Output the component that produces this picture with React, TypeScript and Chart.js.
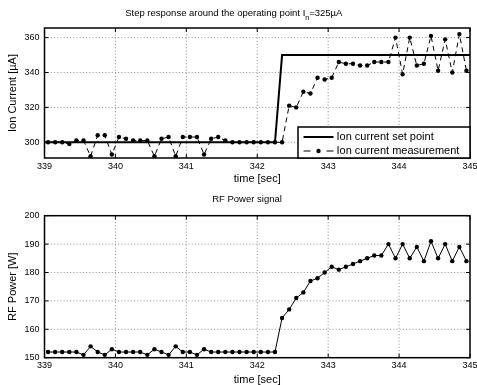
import React, { useEffect, useRef } from 'react';
import { Chart, registerables } from 'chart.js';

Chart.register(...registerables);

const FONT = '"Liberation Sans", Arial, Helvetica, sans-serif';

// ---- data ----
const sampleTimes = [
  339.05, 339.15, 339.25, 339.35, 339.45, 339.55, 339.65, 339.75, 339.85, 339.95,
  340.05, 340.15, 340.25, 340.35, 340.45, 340.55, 340.65, 340.75, 340.85, 340.95,
  341.05, 341.15, 341.25, 341.35, 341.45, 341.55, 341.65, 341.75, 341.85, 341.95,
  342.05, 342.15, 342.25, 342.35, 342.45, 342.55, 342.65, 342.75, 342.85, 342.95,
  343.05, 343.15, 343.25, 343.35, 343.45, 343.55, 343.65, 343.75, 343.85, 343.95,
  344.05, 344.15, 344.25, 344.35, 344.45, 344.55, 344.65, 344.75, 344.85, 344.95,
];

const ionSetTimes = [339, 342.25, 342.35, 345];
const ionSetValues = [300, 300, 350, 350];

const ionMeasured = [
  300, 300, 300, 299, 301, 301, 292, 304, 304, 293,
  303, 302, 301, 301, 301, 292, 302, 303, 292, 303,
  303, 303, 293, 302, 303, 301, 300, 300, 300, 300,
  300, 300, 300, 300, 321, 320, 329, 328, 337, 336,
  337, 346, 345, 345, 344, 344, 346, 346, 346, 360,
  339, 360, 344, 345, 361, 341, 359, 340, 362, 341,
];

const rfPower = [
  152, 152, 152, 152, 152, 151, 154, 152, 151, 153,
  152, 152, 152, 152, 151, 153, 152, 151, 154, 152,
  152, 151, 153, 152, 152, 152, 152, 152, 152, 152,
  152, 152, 152, 164, 167, 171, 173, 177, 178, 180,
  182, 181, 182, 183, 184, 185, 186, 186, 190, 185,
  190, 185, 189, 184, 191, 185, 190, 184, 189, 184,
];

const timeTicks = [339, 340, 341, 342, 343, 344, 345];
const ionTicks = [300, 320, 340, 360];
const rfTicks = [150, 160, 170, 180, 190, 200];
const legendLabels = ['Ion current set point', 'Ion current measurement'];

// ---- plugin: MATLAB style axes, titles, legend ----
type TitlePart = { text: string; sub?: boolean };

const matlabPlugin = {
  id: 'matlab',
  beforeDatasetsDraw(chart: any) {
    const { ctx, chartArea: a, scales } = chart;
    ctx.save();
    ctx.strokeStyle = '#8c8c8c';
    ctx.lineWidth = 1;
    ctx.setLineDash([1, 2.2]);
    for (const t of scales.x.ticks) {
      const px = scales.x.getPixelForValue(t.value);
      if (px <= a.left + 1 || px >= a.right - 1) continue;
      ctx.beginPath();
      ctx.moveTo(px, a.top);
      ctx.lineTo(px, a.bottom);
      ctx.stroke();
    }
    for (const t of scales.y.ticks) {
      const py = scales.y.getPixelForValue(t.value);
      if (py <= a.top + 1 || py >= a.bottom - 1) continue;
      ctx.beginPath();
      ctx.moveTo(a.left, py);
      ctx.lineTo(a.right, py);
      ctx.stroke();
    }
    ctx.restore();
  },
  afterDraw(chart: any, _args: any, opts: any) {
    const { ctx, chartArea: a, scales } = chart;
    ctx.save();
    // tick marks inward
    ctx.strokeStyle = '#000';
    ctx.lineWidth = 1;
    ctx.setLineDash([]);
    const tl = 4;
    for (const t of scales.x.ticks) {
      const px = scales.x.getPixelForValue(t.value);
      ctx.beginPath();
      ctx.moveTo(px, a.bottom);
      ctx.lineTo(px, a.bottom - tl);
      ctx.moveTo(px, a.top);
      ctx.lineTo(px, a.top + tl);
      ctx.stroke();
    }
    for (const t of scales.y.ticks) {
      const py = scales.y.getPixelForValue(t.value);
      ctx.beginPath();
      ctx.moveTo(a.left, py);
      ctx.lineTo(a.left + tl, py);
      ctx.moveTo(a.right, py);
      ctx.lineTo(a.right - tl, py);
      ctx.stroke();
    }
    // frame
    ctx.lineWidth = 1.5;
    ctx.strokeRect(a.left, a.top, a.right - a.left, a.bottom - a.top);

    // title with optional subscript
    const parts: TitlePart[] = opts.title || [];
    if (parts.length) {
      const size = opts.titleSize || 9.5;
      const subSize = size * 0.75;
      let total = 0;
      const widths = parts.map((p) => {
        ctx.font = `${p.sub ? subSize : size}px ${FONT}`;
        const w = ctx.measureText(p.text).width;
        total += w;
        return w;
      });
      let x = opts.titleX - total / 2;
      ctx.fillStyle = '#000';
      ctx.textBaseline = 'middle';
      ctx.textAlign = 'left';
      parts.forEach((p, i) => {
        ctx.font = `${p.sub ? subSize : size}px ${FONT}`;
        ctx.fillText(p.text, x, opts.titleY + (p.sub ? size * 0.5 : 0));
        x += widths[i];
      });
    }

    // legend inside lower right corner
    if (opts.legend) {
      const ds = chart.data.datasets;
      const w = 172;
      const h = 31;
      const left = a.right - w;
      const top = a.bottom - h;
      ctx.fillStyle = '#fff';
      ctx.fillRect(left, top, w, h);
      ctx.strokeStyle = '#000';
      ctx.lineWidth = 1.5;
      ctx.strokeRect(left, top, w, h);
      const rows = [top + 10, top + 24];
      const sx0 = left + 5.5;
      const sx1 = left + 35.5;
      // row 1: solid thick
      ctx.lineWidth = 2;
      ctx.beginPath();
      ctx.moveTo(sx0, rows[0]);
      ctx.lineTo(sx1, rows[0]);
      ctx.stroke();
      // row 2: dash - dot - dash
      ctx.lineWidth = 1;
      ctx.beginPath();
      ctx.moveTo(sx0, rows[1]);
      ctx.lineTo(sx0 + 7, rows[1]);
      ctx.moveTo(sx1 - 7, rows[1]);
      ctx.lineTo(sx1, rows[1]);
      ctx.stroke();
      ctx.fillStyle = '#000';
      ctx.beginPath();
      ctx.arc((sx0 + sx1) / 2, rows[1], 2.2, 0, Math.PI * 2);
      ctx.fill();
      ctx.font = `11px ${FONT}`;
      ctx.textAlign = 'left';
      ctx.textBaseline = 'middle';
      ctx.fillText(ds[0].label, left + 38.5, rows[0]);
      ctx.fillText(ds[1].label, left + 38.5, rows[1]);
    }
    ctx.restore();
  },
};

function xScale(height: number, padding: number, titlePadBottom: number) {
  return {
    type: 'linear',
    min: 339,
    max: 345,
    afterBuildTicks: (s: any) => {
      s.ticks = timeTicks.map((v) => ({ value: v }));
    },
    afterFit: (s: any) => {
      s.height = height;
      s.paddingLeft = 0;
      s.paddingRight = 0;
    },
    grid: { display: false, drawTicks: false },
    border: { display: false },
    ticks: {
      padding,
      color: '#000',
      autoSkip: false,
      maxRotation: 0,
      font: { size: 9, family: FONT },
      callback: (v: any) => String(v),
    },
    title: {
      display: true,
      text: 'time [sec]',
      color: '#000',
      font: { size: 11, family: FONT, lineHeight: 1 },
      padding: { top: 0, bottom: titlePadBottom },
    },
  };
}

function yScale(min: number, max: number, ticks: number[], label: string) {
  return {
    type: 'linear',
    min,
    max,
    afterBuildTicks: (s: any) => {
      s.ticks = ticks.map((v) => ({ value: v }));
    },
    afterFit: (s: any) => {
      s.width = 44.5;
      s.paddingTop = 0;
      s.paddingBottom = 0;
    },
    grid: { display: false, drawTicks: false },
    border: { display: false },
    ticks: {
      padding: 5,
      color: '#000',
      autoSkip: false,
      font: { size: 9, family: FONT },
      callback: (v: any) => String(v),
    },
    title: {
      display: true,
      text: label,
      color: '#000',
      font: { size: 11, family: FONT, lineHeight: 1 },
      padding: { top: 7, bottom: 0 },
    },
  };
}

function TopChart() {
  const ref = useRef<HTMLCanvasElement>(null);
  useEffect(() => {
    const chart = new Chart(ref.current as HTMLCanvasElement, {
      type: 'line',
      data: {
        datasets: [
          {
            label: legendLabels[0],
            data: ionSetTimes.map((t, i) => ({ x: t, y: ionSetValues[i] })),
            borderColor: '#000',
            borderWidth: 2,
            pointRadius: 0,
            tension: 0,
          },
          {
            label: legendLabels[1],
            data: sampleTimes.map((t, i) => ({ x: t, y: ionMeasured[i] })),
            borderColor: '#000',
            borderWidth: 1,
            borderDash: [5, 4],
            pointRadius: 2.2,
            pointBorderWidth: 0,
            pointBackgroundColor: '#000',
            tension: 0,
          },
        ],
      },
      options: {
        animation: false,
        responsive: false,
        devicePixelRatio: 1,
        layout: { padding: { top: 28, right: 7, left: 0, bottom: 0 } },
        plugins: {
          legend: { display: false },
          tooltip: { enabled: false },
          matlab: {
            title: [
              { text: 'Step response around the operating point I' },
              { text: 'n', sub: true },
              { text: '=325µA' },
            ],
            titleX: 233.8,
            titleY: 13.3,
            titleSize: 9.5,
            legend: true,
          },
        } as any,
        scales: {
          x: xScale(34, 3.5, 7.5) as any,
          y: yScale(291, 365.5, ionTicks, 'Ion Current [µA]') as any,
        },
      },
      plugins: [matlabPlugin],
    });
    return () => chart.destroy();
  }, []);
  return <canvas ref={ref} width={477} height={192} style={{ display: 'block', width: 477, height: 192 }} />;
}

function BottomChart() {
  const ref = useRef<HTMLCanvasElement>(null);
  useEffect(() => {
    const chart = new Chart(ref.current as HTMLCanvasElement, {
      type: 'line',
      data: {
        datasets: [
          {
            label: 'RF Power',
            data: sampleTimes.map((t, i) => ({ x: t, y: rfPower[i] })),
            borderColor: '#000',
            borderWidth: 1,
            pointRadius: 2.2,
            pointBorderWidth: 0,
            pointBackgroundColor: '#000',
            tension: 0,
          },
        ],
      },
      options: {
        animation: false,
        responsive: false,
        devicePixelRatio: 1,
        layout: { padding: { top: 23.7, right: 7, left: 0, bottom: 0 } },
        plugins: {
          legend: { display: false },
          tooltip: { enabled: false },
          matlab: {
            title: [{ text: 'RF Power signal' }],
            titleX: 247,
            titleY: 7,
            titleSize: 9.5,
            legend: false,
          },
        } as any,
        scales: {
          x: xScale(27.3, 2.2, 0) as any,
          y: yScale(150, 200, rfTicks, 'RF Power [W]') as any,
        },
      },
      plugins: [matlabPlugin],
    });
    return () => chart.destroy();
  }, []);
  return <canvas ref={ref} width={477} height={193} style={{ display: 'block', width: 477, height: 193 }} />;
}

export default function App() {
  return (
    <div
      style={{
        position: 'absolute',
        left: 0,
        top: 0,
        width: 477,
        height: 385,
        background: '#fff',
        overflow: 'hidden',
      }}
    >
      <TopChart />
      <BottomChart />
    </div>
  );
}
